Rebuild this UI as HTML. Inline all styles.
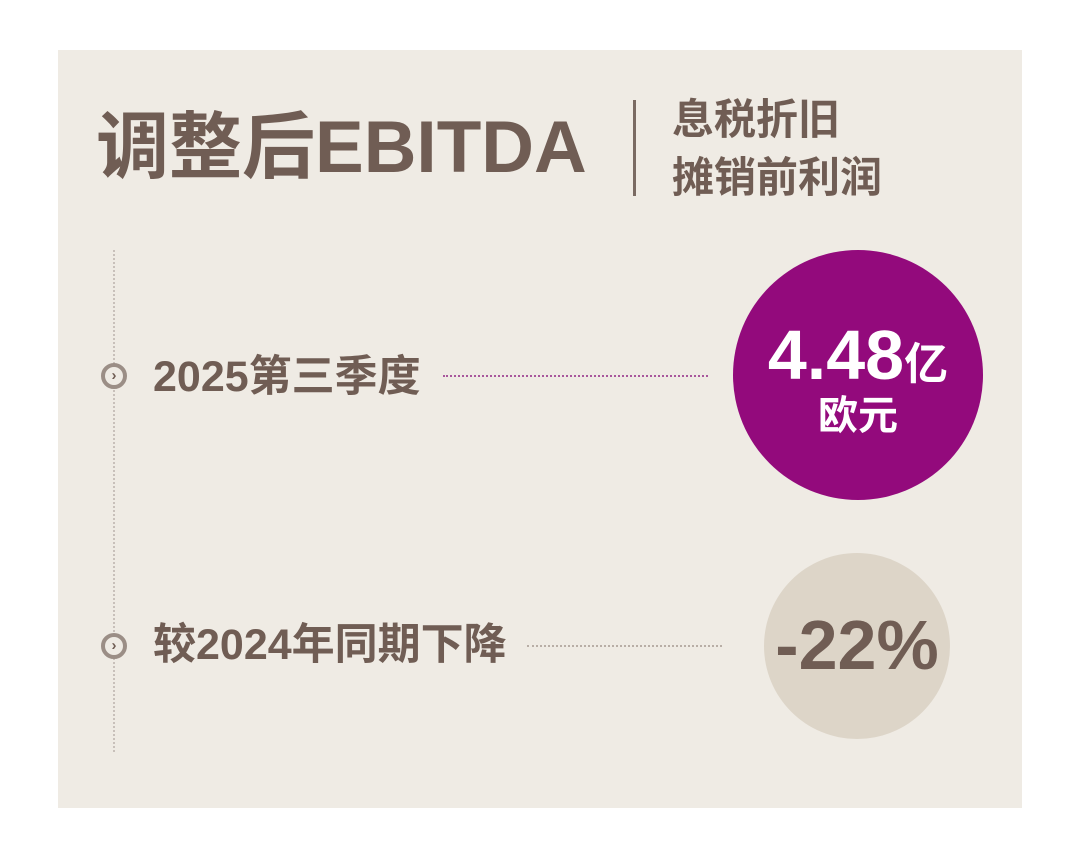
<!DOCTYPE html>
<html><head><meta charset="utf-8"><style>
body{margin:0;width:1080px;height:861px;background:#fff;position:relative;overflow:hidden;font-family:"Liberation Sans","Noto Sans CJK SC",sans-serif;}
.p{position:absolute;left:58px;top:50px;width:964px;height:758px;background:#efebe4;}
.t{position:absolute;color:#705d54;font-weight:bold;white-space:nowrap;line-height:1;}
.circ{position:absolute;border-radius:50%;}
.ic{position:absolute;width:18px;height:18px;border-radius:50%;border:4px solid #9b8e86;background:#efebe4;color:#705d54;font-size:15px;line-height:18px;text-align:center;font-weight:bold;}
</style></head><body>
<div class="p"></div>
<div class="t" style="left:96px;top:111px;font-size:73px;">调整后EBITDA</div>
<div style="position:absolute;left:633px;top:100px;width:3px;height:96px;background:#7a6a62;"></div>
<div class="t" style="left:672px;top:99px;font-size:42px;">息税折旧</div>
<div class="t" style="left:672px;top:157px;font-size:42px;">摊销前利润</div>
<div style="position:absolute;left:113px;top:250px;height:502px;border-left:2px dotted #c8c0ba;"></div>
<div class="ic" style="left:101px;top:363px;">›</div>
<div class="ic" style="left:101px;top:633px;">›</div>
<div class="t" style="left:153px;top:356px;font-size:43px;">2025第三季度</div>
<div class="t" style="left:153px;top:624px;font-size:43px;">较2024年同期下降</div>
<div style="position:absolute;left:443px;top:375px;width:265px;border-top:2px dotted #a8579c;"></div>
<div style="position:absolute;left:527px;top:645px;width:195px;border-top:2px dotted #b8aea6;"></div>
<div class="circ" style="left:733px;top:250px;width:250px;height:250px;background:#930a7c;"></div>
<div class="t" style="left:755px;top:320px;width:206px;text-align:center;color:#fff;font-size:70px;">4.48<span style="font-size:44px;">亿</span></div>
<div class="t" style="left:760px;top:396px;width:196px;text-align:center;color:#fff;font-size:40px;">欧元</div>
<div class="circ" style="left:764px;top:553px;width:186px;height:186px;background:#ddd5c8;"></div>
<div class="t" style="left:764px;top:610px;width:186px;text-align:center;font-size:70px;">-22%</div>
</body></html>
